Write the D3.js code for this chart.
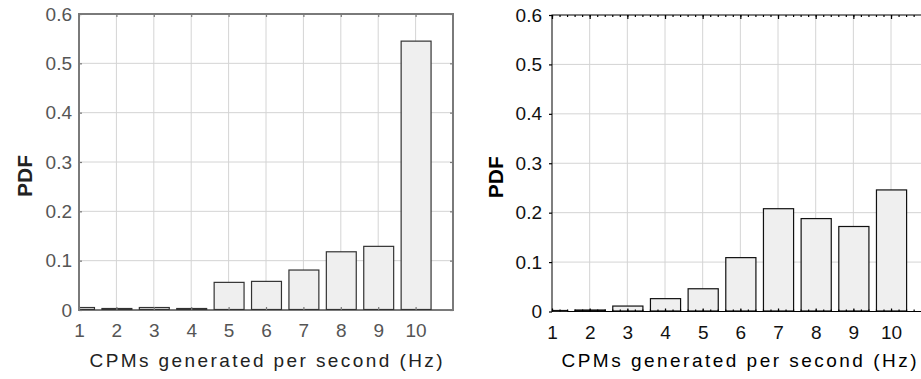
<!DOCTYPE html>
<html lang="en">
<head>
<meta charset="UTF-8">
<title>CPM PDF</title>
<style>
body { margin: 0; background: #fff; }
svg { display: block; font-family: "Liberation Sans", Arial, sans-serif; }
.grid line { stroke: #d4d4d4; stroke-width: 1px; }
</style>
</head>
<body>
<script src="https://cdnjs.cloudflare.com/ajax/libs/d3/7.8.5/d3.min.js"></script>
<script>
// values
var cpm = [1, 2, 3, 4, 5, 6, 7, 8, 9, 10];
var pdfLeft = [0.004, 0.002, 0.004, 0.002, 0.055, 0.057, 0.080, 0.117, 0.128, 0.544];
var pdfRight = [0.001, 0.002, 0.010, 0.025, 0.045, 0.108, 0.207, 0.187, 0.171, 0.245];
var yTicks = [0, 0.1, 0.2, 0.3, 0.4, 0.5, 0.6];
var yTickLabels = ["0", "0.1", "0.2", "0.3", "0.4", "0.5", "0.6"];
var xTitle = "CPMs generated per second (Hz)";
var yTitle = "PDF";

var width = 921, height = 379;
var svg = d3.select("body").append("svg")
  .attr("width", width).attr("height", height);

var panels = [
  { left: 79, top: 14, w: 374, h: 296, values: pdfLeft, frame: "#7a7a7a", frameW: 2,
    bar: "#333", text: "#555", title: "#222", yTitleX: 32, xTitleX: 266, xTitleLen: 353,
    outerY: false, minor: false, id: "a" },
  { left: 552, top: 15, w: 376.7, h: 296.5, values: pdfRight, frame: "#000", frameW: 1,
    bar: "#111", text: "#111", title: "#000", yTitleX: 503, xTitleX: 739, xTitleLen: 355,
    outerY: true, minor: true, id: "b" }
];

panels.forEach(function (p) {
  var g = svg.append("g").attr("transform", "translate(" + p.left + "," + p.top + ")");
  var x = d3.scaleLinear().domain([1, 11]).range([0, p.w]);
  var y = d3.scaleLinear().domain([0, 0.6]).range([p.h, 0]);

  // grid
  var grid = g.append("g").attr("class", "grid");
  grid.selectAll("line.v").data(cpm.slice(1)).join("line")
    .attr("x1", d => x(d)).attr("x2", d => x(d)).attr("y1", 0).attr("y2", p.h);
  grid.selectAll("line.h").data(yTicks.slice(1, -1)).join("line")
    .attr("class", "h")
    .attr("x1", 0).attr("x2", p.w).attr("y1", d => y(d)).attr("y2", d => y(d));

  // frame
  g.append("rect").attr("width", p.w).attr("height", p.h)
    .attr("fill", "none").attr("stroke", p.frame).attr("stroke-width", p.frameW);

  // bars, clipped to the plot box
  g.append("clipPath").attr("id", "clip-" + p.id)
    .append("rect").attr("width", p.w).attr("height", p.h);
  var bw = x(1.8) - x(1);
  g.append("g").attr("clip-path", "url(#clip-" + p.id + ")")
    .selectAll("rect").data(p.values).join("rect")
    .attr("x", (d, i) => x(cpm[i]) - bw / 2 + 0.5)
    .attr("y", d => y(d) - 0.5)
    .attr("width", bw)
    .attr("height", d => Math.max(1, y(0) - y(d)))
    .attr("fill", "#efefef")
    .attr("stroke", p.bar)
    .attr("stroke-width", 1.2);

  // axes
  var xAxis = g.append("g").attr("transform", "translate(0," + p.h + ")")
    .call(d3.axisBottom(x).tickValues(cpm).tickSize(-3).tickPadding(14));
  var yAxis = g.append("g")
    .call(d3.axisLeft(y).tickValues(yTicks)
      .tickFormat((d, i) => yTickLabels[i])
      .tickSize(p.outerY ? 3 : -3).tickPadding(7));
  g.append("g").call(d3.axisTop(x).tickValues(cpm).tickSize(p.minor ? -4 : -3).tickFormat(""));
  g.append("g").attr("transform", "translate(" + p.w + ",0)")
    .call(d3.axisRight(y).tickValues(yTicks).tickSize(-3).tickFormat(""));
  if (p.minor) {
    var minorTicks = d3.range(10 * 5 + 1).map(k => 1 + k * 0.2);
    g.append("g").call(d3.axisTop(x).tickValues(minorTicks).tickSize(-2).tickFormat(""));
    g.append("g").attr("transform", "translate(0," + p.h + ")")
      .call(d3.axisBottom(x).tickValues(minorTicks).tickSize(-2).tickFormat(""));
  }
  g.selectAll(".domain").remove();
  g.selectAll(".tick line").attr("stroke", p.frame).attr("stroke-width", 1.2);
  [xAxis, yAxis].forEach(a => a.selectAll("text")
    .attr("fill", p.text).style("font-size", "19px").style("font-family", null));

  // titles
  svg.append("text")
    .attr("transform", "translate(" + p.yTitleX + "," + (p.top + p.h / 2 + 14) + ") rotate(-90)")
    .attr("text-anchor", "middle")
    .attr("fill", p.title).style("font-size", "21px").style("font-weight", 600)
    .text(yTitle);
  svg.append("text")
    .attr("x", p.xTitleX).attr("y", 367)
    .attr("text-anchor", "middle")
    .attr("textLength", p.xTitleLen).attr("lengthAdjust", "spacing")
    .attr("fill", p.title).style("font-size", "19px")
    .text(xTitle);
});
</script>
</body>
</html>
